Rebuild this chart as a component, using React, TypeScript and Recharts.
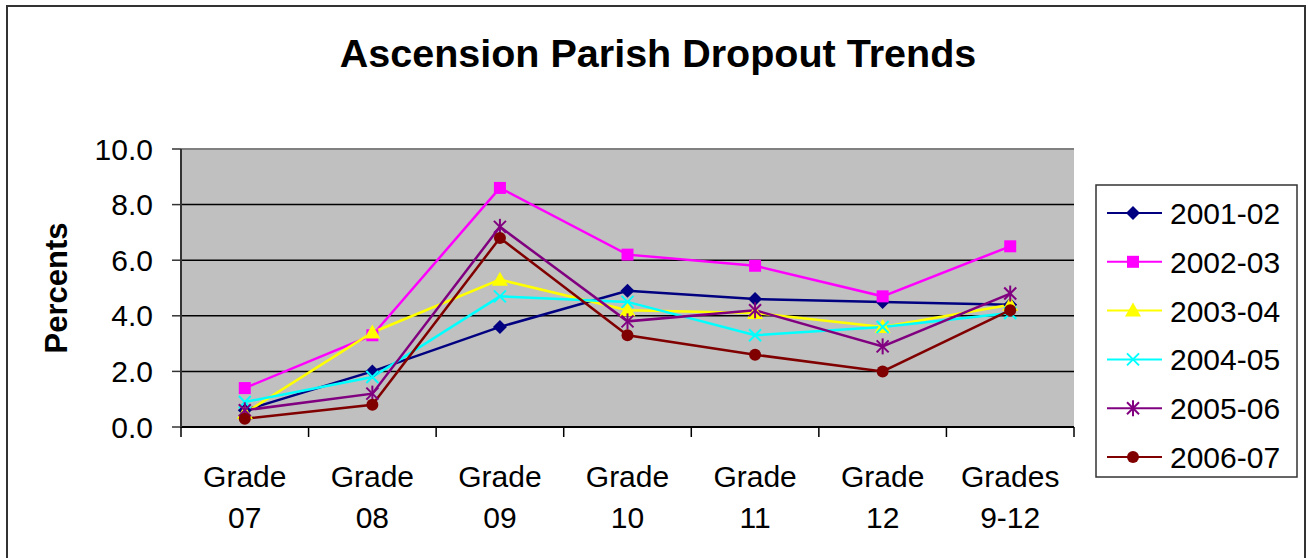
import React from 'react';
import { LineChart, Line, XAxis, YAxis, CartesianGrid, Legend, ReferenceLine } from 'recharts';

const grades = ['Grade 07', 'Grade 08', 'Grade 09', 'Grade 10', 'Grade 11', 'Grade 12', 'Grades 9-12'];
const yearLabels = ['2001-02', '2002-03', '2003-04', '2004-05', '2005-06', '2006-07'];
const yTicks = [0, 2, 4, 6, 8, 10];

const y2001 = [0.6, 2.0, 3.6, 4.9, 4.6, 4.5, 4.4];
const y2002 = [1.4, 3.3, 8.6, 6.2, 5.8, 4.7, 6.5];
const y2003 = [0.5, 3.4, 5.3, 4.2, 4.1, 3.6, 4.4];
const y2004 = [0.9, 1.8, 4.7, 4.5, 3.3, 3.6, 4.1];
const y2005 = [0.6, 1.2, 7.2, 3.8, 4.2, 2.9, 4.8];
const y2006 = [0.3, 0.8, 6.8, 3.3, 2.6, 2.0, 4.2];

const seriesValues = [y2001, y2002, y2003, y2004, y2005, y2006];
const colors = ['#000080', '#FF00FF', '#FFFF00', '#00FFFF', '#800080', '#800000'];
const shapes = ['diamond', 'square', 'triangle', 'cross', 'star', 'circle'];

const data = grades.map((g, i) => {
  const row: Record<string, string | number> = { grade: g };
  yearLabels.forEach((y, s) => {
    row[y] = seriesValues[s][i];
  });
  return row;
});

const FONT = '"Liberation Sans", Arial, sans-serif';
const PLOT_LEFT = 181;
const PLOT_RIGHT = 1074;
const PLOT_BOTTOM = 427;
const BAND = (PLOT_RIGHT - PLOT_LEFT) / grades.length;

const Marker = ({ shape, color, cx, cy }: { shape: string; color: string; cx: number; cy: number }) => {
  if (cx == null || cy == null) return null;
  switch (shape) {
    case 'diamond':
      return <polygon points={`${cx},${cy - 7} ${cx + 7},${cy} ${cx},${cy + 7} ${cx - 7},${cy}`} fill={color} />;
    case 'square':
      return <rect x={cx - 6} y={cy - 6} width={12} height={12} fill={color} />;
    case 'triangle':
      return <polygon points={`${cx},${cy - 8} ${cx + 8},${cy + 6} ${cx - 8},${cy + 6}`} fill={color} />;
    case 'cross':
      return (
        <g stroke={color} strokeWidth={2}>
          <line x1={cx - 6} y1={cy - 6} x2={cx + 6} y2={cy + 6} />
          <line x1={cx - 6} y1={cy + 6} x2={cx + 6} y2={cy - 6} />
        </g>
      );
    case 'star':
      return (
        <g stroke={color} strokeWidth={2}>
          <line x1={cx - 6} y1={cy - 6} x2={cx + 6} y2={cy + 6} />
          <line x1={cx - 6} y1={cy + 6} x2={cx + 6} y2={cy - 6} />
          <line x1={cx} y1={cy - 8} x2={cx} y2={cy + 8} />
        </g>
      );
    default:
      return <circle cx={cx} cy={cy} r={6} fill={color} />;
  }
};

const GradeTick = (props: any) => {
  const { x, payload, index } = props;
  const label: string = payload.value;
  const sp = label.indexOf(' ');
  const first = label.slice(0, sp);
  const second = label.slice(sp + 1);
  const left = x - BAND / 2;
  return (
    <g>
      <line x1={left} x2={left} y1={PLOT_BOTTOM} y2={PLOT_BOTTOM + 10} stroke="#000" strokeWidth={1.5} />
      {index === grades.length - 1 && (
        <line x1={x + BAND / 2} x2={x + BAND / 2} y1={PLOT_BOTTOM} y2={PLOT_BOTTOM + 10} stroke="#000" strokeWidth={1.5} />
      )}
      <text x={x} y={487} textAnchor="middle" fontSize={30} fontFamily={FONT} fill="#000">
        <tspan x={x}>{first}</tspan>
        <tspan x={x} dy={41}>{second}</tspan>
      </text>
    </g>
  );
};

const LegendBox = () => (
  <svg width={203} height={294} style={{ display: 'block' }}>
    <rect x={1} y={1} width={201} height={292} fill="#fff" stroke="#333" strokeWidth={1.5} />
    {yearLabels.map((y, i) => {
      const cy = 29 + i * 48.8;
      return (
        <g key={y}>
          <line x1={12} x2={67} y1={cy} y2={cy} stroke={colors[i]} strokeWidth={2} />
          <Marker shape={shapes[i]} color={colors[i]} cx={38} cy={cy} />
          <text x={75} y={cy + 11} fontSize={30} fontFamily={FONT} fill="#000">{y}</text>
        </g>
      );
    })}
  </svg>
);

export default function App() {
  return (
    <div style={{ position: 'absolute', left: 0, top: 0, width: 1308, height: 558, background: '#fff', overflow: 'hidden' }}>
      <div
        style={{
          position: 'absolute', left: 6, top: 5, width: 1300, height: 570,
          border: '2px solid #333', boxSizing: 'border-box',
        }}
      />
      <div
        style={{
          position: 'absolute', left: 0, top: 34, width: 1316, textAlign: 'center',
          fontFamily: FONT, fontWeight: 'bold', fontSize: 39.5, lineHeight: '39px', color: '#000',
        }}
      >
        Ascension Parish Dropout Trends
      </div>
      <div style={{ position: 'absolute', left: 0, top: 0 }}>
        <LineChart width={1308} height={558} data={data} margin={{ top: 149, right: 234, left: 0, bottom: 0 }}>
          <CartesianGrid vertical={false} stroke="#000" strokeWidth={1.5} fill="#C0C0C0" fillOpacity={1} />
          <XAxis
            dataKey="grade"
            scale="band"
            height={131}
            interval={0}
            tickLine={false}
            tick={<GradeTick />}
            axisLine={{ stroke: '#000', strokeWidth: 2 }}
          />
          <YAxis
            width={181}
            domain={[0, 10]}
            ticks={yTicks}
            tickFormatter={(v: number) => v.toFixed(1)}
            tickSize={9}
            tickMargin={19}
            tick={{ fontSize: 30, fontFamily: FONT, fill: '#000' }}
            axisLine={{ stroke: '#333', strokeWidth: 2 }}
            tickLine={{ stroke: '#333', strokeWidth: 1.5 }}
            label={{
              value: 'Percents',
              angle: -90,
              position: 'insideLeft',
              offset: 56,
              style: { fontSize: 31, fontWeight: 'bold', fontFamily: FONT, fill: '#000', textAnchor: 'middle' },
            }}
          />
          <YAxis
            yAxisId="frame"
            orientation="right"
            width={0}
            domain={[0, 10]}
            tick={false}
            tickLine={false}
            axisLine={{ stroke: '#808080', strokeWidth: 2 }}
          />
          <ReferenceLine y={10} stroke="#808080" strokeWidth={2} />
          <Legend
            layout="vertical"
            align="center"
            verticalAlign="middle"
            content={<LegendBox />}
            wrapperStyle={{ position: 'absolute', left: 1095, top: 184, width: 203, height: 294 }}
          />
          {yearLabels.map((y, i) => (
            <Line
              key={y}
              dataKey={y}
              stroke={colors[i]}
              strokeWidth={2.5}
              isAnimationActive={false}
              dot={(p: any) => <Marker key={`${y}-${p.index}`} shape={shapes[i]} color={colors[i]} cx={p.cx} cy={p.cy} />}
              activeDot={false}
            />
          ))}
        </LineChart>
      </div>
    </div>
  );
}
